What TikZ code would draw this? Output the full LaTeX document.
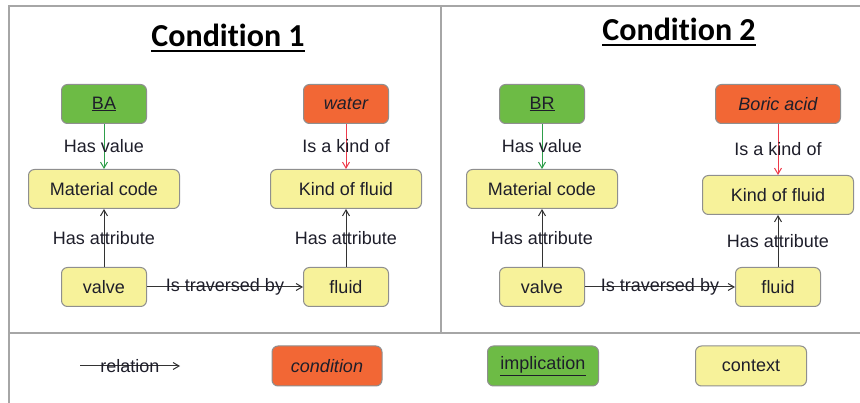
\documentclass[tikz,border=0pt]{standalone}
\usepackage{fontspec}
\setmainfont{Liberation Sans}
\newfontfamily\titlefont[RawFeature={-liga;-clig;-calt;-dlig}]{Carlito}
\usetikzlibrary{arrows.meta}

\definecolor{ctxyellow}{HTML}{F7F29A}
\definecolor{condorange}{HTML}{F26735}
\definecolor{implgreen}{HTML}{6DBB45}
\definecolor{boxgray}{HTML}{8F8F8F}
\definecolor{framegray}{HTML}{A6A6A6}
\definecolor{relgreen}{HTML}{2E9E4A}
\definecolor{relred}{HTML}{EE3B4B}
\definecolor{txt}{HTML}{1E1E2A}

\begin{document}
\begin{tikzpicture}[x=1pt,y=-1pt,
    box/.style ={rectangle, rounded corners=6pt, draw=boxgray, line width=1pt,
                 minimum height=39pt, inner sep=0pt, text=txt,
                 font=\fontsize{18}{21}\selectfont},
    context/.style ={box, fill=ctxyellow},
    condition/.style ={box, fill=condorange, font=\fontsize{18}{21}\selectfont\itshape},
    implication/.style ={box, fill=implgreen},
    relation/.style ={draw=black!80, line width=1pt, -{Straight Barb[length=6pt,width=7pt]}},
    hasvalue/.style ={relation, draw=relgreen},
    kindof/.style ={relation, draw=relred},
    lbl/.style ={text=txt, inner sep=0pt, font=\fontsize{18}{21}\selectfont},
    title/.style ={inner sep=0pt, font=\titlefont\bfseries\fontsize{32}{36}\selectfont}]
   \useasboundingbox (0,0) rectangle (860,403);
   % frame
   \draw[framegray, line width=1.3pt] (9,403) -- (9,6) -- (860,6);
   \draw[framegray, line width=1.3pt] (441,6) -- (441,333);
   \draw[framegray, line width=1.3pt] (9,333) -- (860,333);

   % Condition 1
   \node[title] (titleA) at (228,35) {Condition 1};
   \draw[line width=2pt] ([yshift=-5pt]titleA.base west) -- ([yshift=-5pt]titleA.base east);
   \node[implication, minimum width=85pt] (BA) at (104,104) {\underline{BA}};
   \node[condition, minimum width=85pt] (water) at (346,104) {water};
   \node[context, minimum width=151pt] (matA) at (104,189) {Material code};
   \node[context, minimum width=151pt] (kindA) at (346,189) {Kind of fluid};
   \node[context, minimum width=85pt] (valveA) at (104,287) {valve};
   \node[context, minimum width=85pt] (fluidA) at (346,287) {fluid};
   \draw[hasvalue] (BA) -- node[lbl] {Has value} (matA);
   \draw[kindof] (water) -- node[lbl] {Is a kind of} (kindA);
   \draw[relation] (valveA) -- node[lbl] {Has attribute} (matA);
   \draw[relation] (fluidA) -- node[lbl] {Has attribute} (kindA);
   \draw[relation] (valveA) -- node[lbl] {Is traversed by} (fluidA);

   % Condition 2
   \node[title] (titleB) at (679,29) {Condition 2};
   \draw[line width=2pt] ([yshift=-5pt]titleB.base west) -- ([yshift=-5pt]titleB.base east);
   \node[implication, minimum width=85pt] (BR) at (542,104) {\underline{BR}};
   \node[condition, minimum width=125pt] (boric) at (778,104) {Boric acid};
   \node[context, minimum width=151pt] (matB) at (542,189) {Material code};
   \node[context, minimum width=151pt] (kindB) at (778,195) {Kind of fluid};
   \node[context, minimum width=85pt] (valveB) at (542,287) {valve};
   \node[context, minimum width=85pt] (fluidB) at (778,287) {fluid};
   \draw[hasvalue] (BR) -- node[lbl] {Has value} (matB);
   \draw[kindof] (boric) -- node[lbl] {Is a kind of} (kindB);
   \draw[relation] (valveB) -- node[lbl] {Has attribute} (matB);
   \draw[relation] (fluidB) -- node[lbl] {Has attribute} (kindB);
   \draw[relation] (valveB) -- node[lbl] {Is traversed by} (fluidB);

   % legend
   \coordinate (relStart) at (80,366);
   \coordinate (relEnd) at (180,366);
   \draw[relation] (relStart) -- node[lbl] {relation} (relEnd);
   \node[condition, minimum width=110pt, minimum height=40pt] (condKey) at (327,366) {condition};
   \node[implication, minimum width=111pt, minimum height=40pt] (implKey) at (543,366) {\underline{implication}};
   \node[context, minimum width=111pt, minimum height=40pt] (ctxKey) at (751,366) {context};
 \end{tikzpicture}
\end{document}
